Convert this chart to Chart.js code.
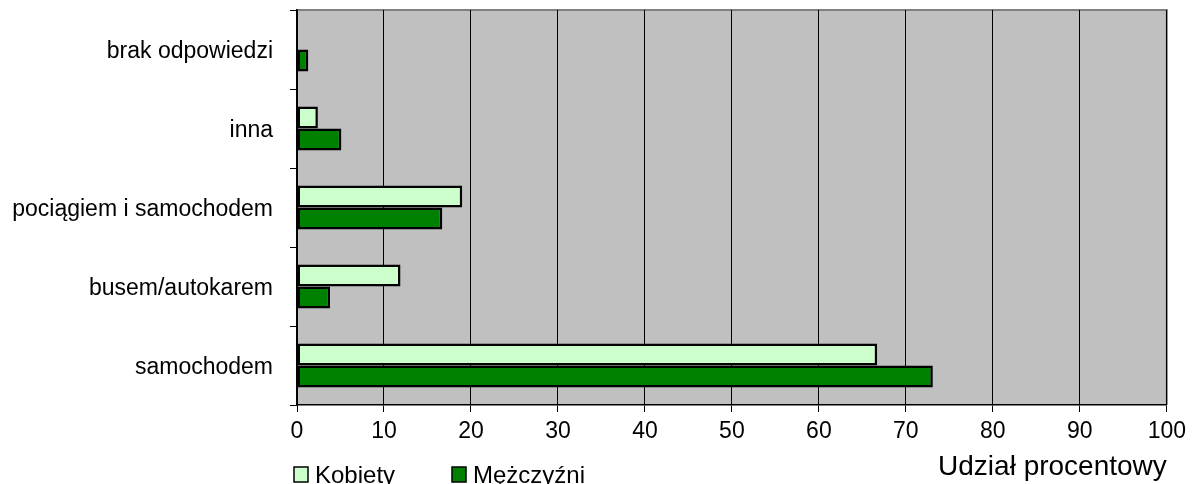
<!DOCTYPE html>
<html>
<head>
<meta charset="utf-8">
<script src="https://cdn.jsdelivr.net/npm/chart.js@4"></script>
<style>
  html, body { margin: 0; padding: 0; background: #fff; }
  #wrap { width: 1192px; height: 484px; }
</style>
</head>
<body>
<div id="wrap"><canvas id="travelChart" width="1192" height="484"></canvas></div>
<script>
// categories, top to bottom
const categories = ['brak odpowiedzi', 'inna', 'pociągiem i samochodem', 'busem/autokarem', 'samochodem'];
const kobiety = [0, 2.4, 19.0, 11.9, 66.7];
const mezczyzni = [1.3, 5.1, 16.7, 3.8, 73.1];
const xTicks = [0, 10, 20, 30, 40, 50, 60, 70, 80, 90, 100];
const seriesNames = ['Kobiety', 'Mężczyźni'];
const axisTitle = 'Udział procentowy';

const FONT = "'Liberation Sans', Arial, sans-serif";

// grey plot background with grey top/right frame
const plotBg = {
  id: 'plotBg',
  beforeDraw(chart) {
    const { ctx, chartArea: a } = chart;
    ctx.save();
    ctx.fillStyle = '#c0c0c0';
    ctx.fillRect(a.left, a.top, a.right - a.left, a.bottom - a.top);
    ctx.strokeStyle = '#808080';
    ctx.lineWidth = 2;
    ctx.beginPath();
    ctx.moveTo(a.left, a.top);
    ctx.lineTo(a.right, a.top);
    ctx.lineTo(a.right, a.bottom);
    ctx.stroke();
    ctx.restore();
  }
};

// legend in the bottom-left corner, from the dataset labels/colours
const cornerLegend = {
  id: 'cornerLegend',
  afterDraw(chart) {
    const { ctx } = chart;
    const xs = [294, 452];
    ctx.save();
    ctx.font = '24px ' + FONT;
    ctx.textBaseline = 'middle';
    chart.data.datasets.forEach((ds, i) => {
      const x = xs[i];
      ctx.fillStyle = ds.backgroundColor;
      ctx.fillRect(x, 467, 14, 15);
      ctx.strokeStyle = '#000';
      ctx.lineWidth = 1.5;
      ctx.strokeRect(x, 467, 14, 15);
      ctx.fillStyle = '#000';
      ctx.fillText(ds.label, x + 21, 476);
    });
    ctx.restore();
  }
};

new Chart(document.getElementById('travelChart'), {
  type: 'bar',
  data: {
    labels: categories,
    datasets: [
      {
        label: seriesNames[0],
        data: kobiety,
        backgroundColor: '#ccffcc',
        borderColor: '#000',
        borderWidth: 2.5,
        borderSkipped: false
      },
      {
        label: seriesNames[1],
        data: mezczyzni,
        backgroundColor: '#008000',
        borderColor: '#000',
        borderWidth: 2.5,
        borderSkipped: false
      }
    ]
  },
  options: {
    indexAxis: 'y',
    responsive: false,
    animation: false,
    categoryPercentage: 0.557,
    barPercentage: 1,
    layout: { padding: { top: 10, right: 24, left: 0, bottom: 0 } },
    plugins: {
      legend: { display: false },
      tooltip: { enabled: false }
    },
    scales: {
      x: {
        min: 0,
        max: 100,
        afterBuildTicks(scale) { scale.ticks = xTicks.map(v => ({ value: v })); },
        afterFit(scale) { scale.height = 79; },
        grid: { color: '#000', lineWidth: 1, tickLength: 7 },
        border: { color: '#000', width: 1.5 },
        ticks: { color: '#000', font: { family: FONT, size: 23 }, padding: 6, maxRotation: 0 },
        title: {
          display: true,
          text: axisTitle,
          align: 'end',
          color: '#000',
          font: { family: FONT, size: 28 },
          padding: { top: 0, bottom: 0 }
        }
      },
      y: {
        afterFit(scale) {
          scale.width = 297;
          scale.paddingTop = 0;
          scale.paddingBottom = 0;
        },
        grid: { drawOnChartArea: false, color: '#000', tickLength: 7 },
        border: { color: '#000', width: 1.5 },
        ticks: { color: '#000', font: { family: FONT, size: 23 }, padding: 17, labelOffset: 2 }
      }
    }
  },
  plugins: [plotBg, cornerLegend]
});
</script>
</body>
</html>
